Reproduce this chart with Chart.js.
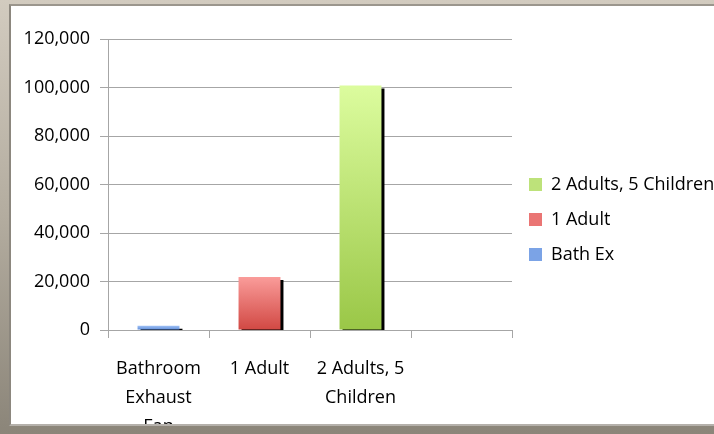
<!DOCTYPE html>
<html>
<head>
<meta charset="utf-8">
<script src="https://cdn.jsdelivr.net/npm/chart.js@4/dist/chart.umd.min.js"></script>
<style>
  html, body {
    margin: 0;
    padding: 0;
    width: 714px;
    height: 434px;
    overflow: hidden;
    background: linear-gradient(to bottom, #d2cbbf 0%, #b3ac9f 50%, #8b8579 100%);
  }
  .frame {
    position: absolute;
    left: 9px;
    top: 4px;
    width: 705px;
    height: 418px;
    border-left: 2px solid #8c877e;
    border-top: 2px solid #9b968d;
    border-bottom: 2px solid #b5b1ab;
    background: #fff;
    overflow: hidden;
  }
  .chart-box {
    position: relative;
    width: 703px;
    height: 418px;
  }
</style>
</head>
<body>
<div class="frame">
  <div class="chart-box"><canvas id="chart"></canvas></div>
</div>
<script>
// Chart data
const categories = [['Bathroom', 'Exhaust', 'Fan'], '1 Adult', ['2 Adults, 5', 'Children'], ''];
const seriesNames = ['Bath Ex', '1 Adult', '2 Adults, 5 Children'];
const bathExValues = [1800, null, null, null];
const oneAdultValues = [null, 21900, null, null];
const twoAdultsValues = [null, null, 100800, null];
const yTicks = [0, 20000, 40000, 60000, 80000, 100000, 120000];

const FONT = "'Open Sans', sans-serif";
const GRID = '#a6a6a6';

/**
 * Vertical gradient per bar, from top colour to bottom colour
 */
function barGradient(top, bottom) {
  return (ctx) => {
    const chart = ctx.chart;
    const value = ctx.raw;
    if (!chart.chartArea || value == null) return bottom;
    const y = chart.scales.y;
    const yTop = y.getPixelForValue(value);
    const yBase = y.getPixelForValue(0);
    const g = chart.ctx.createLinearGradient(0, yTop, 0, yBase);
    g.addColorStop(0, top);
    g.addColorStop(1, bottom);
    return g;
  };
}

// Hard black drop shadow on the right of each bar
const barShadow = {
  id: 'barShadow',
  beforeDatasetsDraw(chart) {
    const ctx = chart.ctx;
    ctx.save();
    ctx.shadowColor = '#000';
    ctx.shadowOffsetX = 3;
    ctx.shadowOffsetY = 3;
    ctx.shadowBlur = 0;
  },
  afterDatasetsDraw(chart) {
    chart.ctx.restore();
  }
};

const legendColors = ['#7ba3e6', '#ea7574', '#bde27a'];

new Chart(document.getElementById('chart'), {
  type: 'bar',
  data: {
    labels: categories,
    datasets: [
      {
        label: seriesNames[0],
        data: bathExValues,
        backgroundColor: barGradient('#a2c3f6', '#5b8ad8')
      },
      {
        label: seriesNames[1],
        data: oneAdultValues,
        backgroundColor: barGradient('#fa9c9a', '#d14843')
      },
      {
        label: seriesNames[2],
        data: twoAdultsValues,
        backgroundColor: barGradient('#dcfc9e', '#9ac747')
      }
    ]
  },
  options: {
    responsive: true,
    maintainAspectRatio: false,
    animation: false,
    categoryPercentage: 1,
    barPercentage: 0.415,
    layout: {
      padding: { top: 9, right: 0, bottom: 0, left: 0 }
    },
    plugins: {
      tooltip: { enabled: false },
      // empty title only reserves the gap above the plot
      title: {
        display: true,
        text: ' ',
        font: { size: 10, lineHeight: 1 },
        padding: { top: 14, bottom: 0 }
      },
      legend: {
        position: 'right',
        reverse: true,
        maxWidth: 202,
        labels: {
          font: { family: FONT, size: 18 },
          color: '#000',
          boxWidth: 13,
          boxHeight: 13,
          padding: 17,
          generateLabels: (chart) => chart.data.datasets.map((ds, i) => ({
            text: ds.label,
            fillStyle: legendColors[i],
            strokeStyle: legendColors[i],
            lineWidth: 0,
            hidden: false,
            datasetIndex: i
          }))
        }
      }
    },
    scales: {
      x: {
        stacked: true,
        offset: true,
        grid: {
          offset: true,
          drawOnChartArea: false,
          drawTicks: true,
          tickLength: 8,
          color: GRID
        },
        border: { display: true, color: GRID },
        ticks: {
          color: '#000',
          padding: 16,
          maxRotation: 0,
          autoSkip: false,
          font: { family: FONT, size: 18, lineHeight: 1.61 }
        },
        afterFit: (axis) => { axis.height = 94; }
      },
      y: {
        stacked: true,
        min: 0,
        max: 120000,
        afterBuildTicks: (axis) => { axis.ticks = yTicks.map((v) => ({ value: v })); },
        grid: {
          color: GRID,
          tickLength: 8
        },
        border: { display: true, color: GRID },
        ticks: {
          color: '#000',
          padding: 10,
          font: { family: FONT, size: 18 },
          callback: (v) => Number(v).toLocaleString('en-US')
        },
        afterFit: (axis) => { axis.width = 97; }
      }
    }
  },
  plugins: [barShadow]
});
</script>
</body>
</html>
